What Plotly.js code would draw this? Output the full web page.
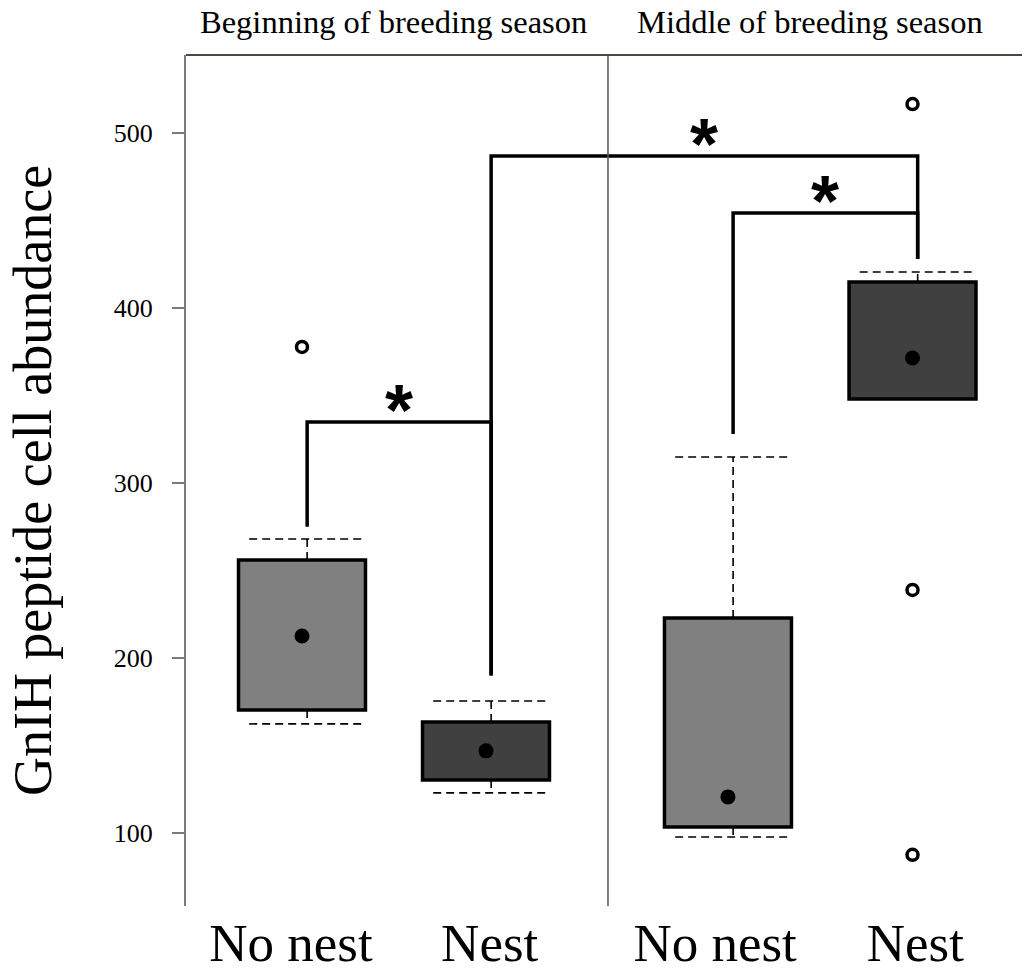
<!DOCTYPE html>
<html>
<head>
<meta charset="utf-8">
<script src="https://cdn.plot.ly/plotly-3.0.1.min.js"></script>
<style>html,body{margin:0;padding:0;background:#fff;}#chart{width:1026px;height:977px;}</style>
</head>
<body>
<div id="chart"></div>
<script>
// ---- data ----
const categories = ['No nest', 'Nest', 'No nest', 'Nest'];
const seasons = ['Beginning of breeding season', 'Middle of breeding season'];
const q1 = [170.4, 130.4, 103.5, 348.0];
const q3 = [256.0, 163.5, 222.9, 414.8];
const means = [212.6, 147.0, 120.7, 371.4];
const upperWhisker = [268.0, 175.5, 314.8, 420.5];
const lowerWhisker = [162.4, 123.0, 97.8, null];
const outlierGroup = [0, 3, 3, 3];
const outlierValue = [377.7, 516.4, 238.9, 87.6];
const bracketFrom = [0, 1, 2];
const bracketTo = [1, 3, 3];
const bracketTop = [334.8, 486.7, 454.2];
const bracketLegFrom = [275, 190, 328];
const bracketLegTo = [190, 427.9, 427.9];
const sigLabels = ['*', '*', '*'];
const yTicks = [100, 200, 300, 400, 500];

// ---- layout constants ----
const xPos = [1, 2, 3.315, 4.318];
const labelShift = [-0.06, 0.02, -0.07, 0.015];
const wOff = 0.028;        // whisker / bracket offset
const capHalf = 0.315;
const boxWidth = 0.69;
const divider = 2.663;
const serif = 'Liberation Serif, Times New Roman, serif';

const traces = [];

// boxes
traces.push({
  type: 'bar',
  x: xPos,
  base: q1,
  y: q3.map((v, i) => v - q1[i]),
  width: boxWidth,
  marker: {color: ['#808080', '#404040', '#808080', '#404040'], line: {color: '#000', width: 3.5}},
  hoverinfo: 'skip',
  showlegend: false
});

// whiskers (dashed)
const wx = [], wy = [];
for (let i = 0; i < xPos.length; i++) {
  const cx = xPos[i] + wOff;
  if (upperWhisker[i] != null) {
    wx.push(cx, cx, null, cx - capHalf, cx + capHalf, null);
    wy.push(q3[i], upperWhisker[i], null, upperWhisker[i], upperWhisker[i], null);
  }
  if (lowerWhisker[i] != null) {
    wx.push(cx, cx, null, cx - capHalf, cx + capHalf, null);
    wy.push(q1[i], lowerWhisker[i], null, lowerWhisker[i], lowerWhisker[i], null);
  }
}
traces.push({
  type: 'scatter', mode: 'lines', x: wx, y: wy,
  line: {color: '#000', width: 1.6, dash: '8px,5px'},
  hoverinfo: 'skip', showlegend: false, cliponaxis: false
});

// means
traces.push({
  type: 'scatter', mode: 'markers', x: xPos, y: means,
  marker: {color: '#000', size: 15, symbol: 'circle'},
  showlegend: false
});

// outliers
traces.push({
  type: 'scatter', mode: 'markers',
  x: outlierGroup.map(g => xPos[g]), y: outlierValue,
  marker: {color: '#fff', size: 11, symbol: 'circle', line: {color: '#000', width: 3.5}},
  showlegend: false
});

// significance brackets
const annotations = [];
for (let b = 0; b < bracketFrom.length; b++) {
  const xa = xPos[bracketFrom[b]] + wOff, xb = xPos[bracketTo[b]] + wOff;
  traces.push({
    type: 'scatter', mode: 'lines',
    x: [xa, xa, xb, xb],
    y: [bracketLegFrom[b], bracketTop[b], bracketTop[b], bracketLegTo[b]],
    line: {color: '#000', width: 3.5},
    hoverinfo: 'skip', showlegend: false
  });
  annotations.push({
    x: (xa + xb) / 2, y: bracketTop[b], xref: 'x', yref: 'y',
    text: '<b>' + sigLabels[b] + '</b>', showarrow: false,
    xanchor: 'center', yanchor: 'bottom', yshift: -30,
    font: {family: 'Liberation Sans, Arial, sans-serif', size: 72, color: '#000'}
  });
}

// season labels
const seasonX = [1.495, 3.761];
seasons.forEach((s, i) => annotations.push({
  x: seasonX[i], y: 1.0388, xref: 'x', yref: 'paper', text: s, showarrow: false,
  xanchor: 'center', yanchor: 'middle',
  font: {family: serif, size: 32.5, color: '#000'}
}));

const layout = {
  width: 1026, height: 977,
  margin: {l: 186, r: 4, t: 55, b: 71},
  paper_bgcolor: '#fff', plot_bgcolor: '#fff',
  showlegend: false,
  xaxis: {
    range: [0.3696, 4.913], showgrid: false, zeroline: false, showline: false,
    ticks: '', tickmode: 'array',
    tickvals: xPos.map((v, i) => v + labelShift[i]), ticktext: categories,
    tickfont: {family: serif, size: 53, color: '#000'},
    ticklabelstandoff: 1
  },
  yaxis: {
    range: [58.4, 544.4], showgrid: false, zeroline: false,
    showline: true, linecolor: '#7a7a7a', linewidth: 2,
    ticks: 'outside', ticklen: 12, tickwidth: 1.5, tickcolor: '#7a7a7a',
    tickmode: 'array', tickvals: yTicks,
    tickfont: {family: serif, size: 26, color: '#000'},
    ticklabelstandoff: 14,
    title: {text: 'GnIH peptide cell abundance', standoff: 45,
            font: {family: serif, size: 54, color: '#000'}}
  },
  shapes: [
    {type: 'line', xref: 'x', yref: 'paper', x0: divider, x1: divider, y0: 0, y1: 1,
     line: {color: '#555', width: 1.5}},
    {type: 'line', xref: 'paper', yref: 'paper', x0: 0, x1: 1, y0: 1, y1: 1,
     line: {color: '#4a4a3e', width: 2}}
  ],
  annotations: annotations
};

Plotly.newPlot('chart', traces, layout, {staticPlot: true, displayModeBar: false});
</script>
</body>
</html>
